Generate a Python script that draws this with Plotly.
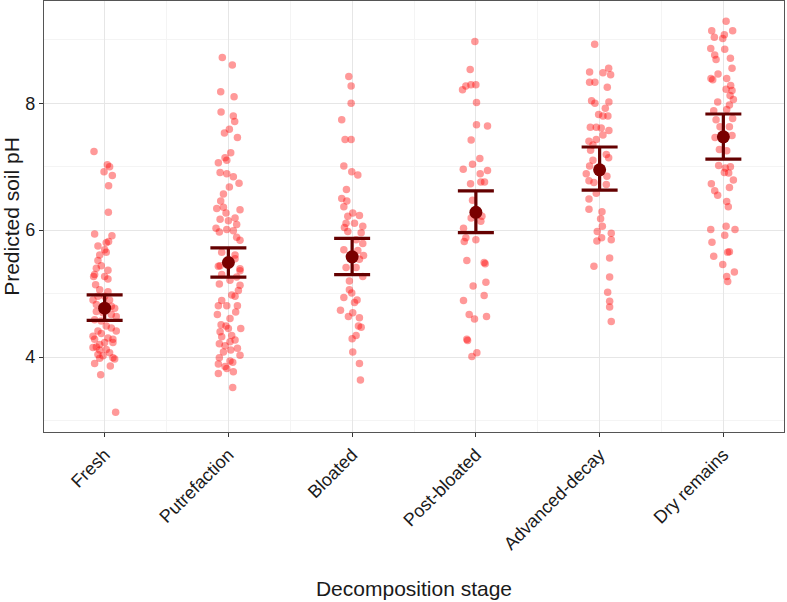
import plotly.graph_objects as go

# ---- data ----
stages = ["Fresh", "Putrefaction", "Bloated", "Post-bloated", "Advanced-decay", "Dry remains"]

# jittered observations: horizontal offset (category units) and predicted pH
fresh_off = [-0.086, 0.022, 0.040, -0.005, 0.062, 0.032, 0.030, -0.081, 0.059, 0.032, 0.013, -0.054,
             0.000, 0.013, -0.040, -0.054, -0.027, 0.027, -0.067, -0.081, -0.089, 0.027, 0.000, -0.073,
             -0.040, 0.027, -0.054, 0.000, -0.094, 0.040, -0.067, 0.081, 0.054, 0.094, -0.081, -0.027,
             0.013, 0.054, 0.094, -0.054, -0.027, -0.094, -0.081, 0.027, 0.067, 0.000, -0.040, 0.067,
             -0.067, -0.094, -0.040, 0.013, 0.040, -0.054, -0.013, 0.067, 0.081, -0.040, -0.081, 0.046,
             -0.032, 0.089, -0.013, 0.054, -0.067]
fresh_ph = [7.24, 7.03, 7.00, 6.92, 6.86, 6.70, 6.28, 5.94, 5.91, 5.82, 5.80, 5.75,
            5.69, 5.65, 5.61, 5.52, 5.44, 5.37, 5.40, 5.30, 5.27, 5.23, 5.27, 5.14,
            5.06, 5.03, 4.96, 4.96, 4.90, 4.90, 4.83, 4.77, 4.67, 4.64, 4.59, 4.57,
            4.49, 4.46, 4.41, 4.41, 4.37, 4.33, 4.28, 4.30, 4.28, 4.23, 4.20, 4.23,
            4.16, 4.15, 4.11, 4.12, 4.07, 4.04, 4.02, 3.99, 3.97, 3.98, 3.90, 3.86,
            3.72, 3.13, 4.70, 4.80, 4.72]

putre_off = [-0.049, 0.032, -0.062, 0.046, -0.059, 0.040, 0.051, 0.008, -0.032, 0.073, 0.019, -0.027,
             -0.013, -0.081, -0.067, -0.013, 0.040, 0.086, 0.008, -0.040, -0.062, -0.094, -0.040, 0.094,
             -0.019, -0.067, 0.000, 0.054, 0.067, -0.100, -0.013, 0.040, -0.073, 0.067, 0.094, 0.054,
             -0.081, -0.054, 0.094, 0.067, -0.073, 0.013, 0.094, 0.081, 0.027, 0.054, -0.054, -0.081,
             -0.013, 0.073, 0.059, -0.089, 0.013, -0.059, -0.019, -0.067, 0.000, 0.100, -0.054, 0.027,
             0.054, 0.013, -0.073, -0.027, 0.073, 0.019, -0.040, 0.094, -0.073, 0.013, -0.081, 0.035,
             -0.013, -0.027, -0.081, 0.040, 0.035, -0.054, 0.054, -0.067, 0.094]
putre_ph = [8.72, 8.60, 8.18, 8.10, 7.86, 7.80, 7.71, 7.59, 7.53, 7.46, 7.22, 7.14,
            7.10, 7.06, 6.91, 6.89, 6.84, 6.74, 6.68, 6.57, 6.46, 6.34, 6.36, 6.32,
            6.27, 6.17, 6.15, 6.19, 6.09, 6.03, 6.01, 5.99, 5.97, 5.89, 5.84, 5.61,
            5.43, 5.30, 5.36, 5.26, 5.15, 5.21, 5.13, 5.05, 4.98, 4.96, 4.89, 4.81,
            4.81, 4.81, 4.71, 4.67, 4.61, 4.51, 4.49, 4.40, 4.45, 4.45, 4.32, 4.34,
            4.27, 4.24, 4.21, 4.18, 4.14, 4.11, 4.08, 4.03, 3.99, 3.94, 3.89, 3.92,
            3.82, 3.85, 3.74, 3.77, 3.52, 5.65, 5.55, 5.44, 5.39]

bloat_off = [-0.027, -0.008, -0.008, -0.084, -0.057, -0.008, -0.067, -0.003, 0.046, -0.046, -0.084, -0.043,
             -0.067, 0.005, 0.059, -0.035, 0.019, -0.049, 0.086, -0.062, -0.035, 0.073, 0.032, 0.086,
             -0.067, 0.046, 0.092, 0.059, -0.049, 0.032, 0.086, -0.022, -0.022, -0.003, -0.067, 0.040,
             0.019, -0.094, -0.030, 0.059, 0.005, 0.051, 0.073, 0.032, 0.000, 0.005, 0.059, 0.067]
bloat_ph = [8.42, 8.27, 8.00, 7.74, 7.43, 7.43, 7.01, 6.92, 6.87, 6.64, 6.50, 6.46,
            6.37, 6.27, 6.23, 6.22, 6.11, 6.11, 6.06, 6.04, 5.98, 5.96, 5.85, 5.79,
            5.69, 5.68, 5.60, 5.54, 5.41, 5.41, 5.27, 5.20, 5.06, 5.01, 4.94, 4.90,
            4.86, 4.74, 4.64, 4.62, 4.70, 4.49, 4.47, 4.34, 4.29, 4.08, 3.90, 3.64]

post_off = [-0.008, -0.046, -0.108, -0.081, -0.040, 0.000, 0.005, 0.005, 0.094, -0.038, 0.032, -0.027,
            -0.102, 0.035, 0.094, -0.043, 0.040, 0.070, -0.027, 0.049, -0.038, 0.040, -0.100, -0.081,
            -0.094, 0.000, -0.073, 0.075, 0.067, 0.081, -0.022, 0.067, -0.100, -0.054, -0.011, 0.086,
            -0.073, -0.067, 0.008, -0.032]
post_ph = [8.97, 8.53, 8.21, 8.27, 8.29, 8.29, 8.01, 7.66, 7.64, 7.42, 7.13, 7.04,
           6.96, 6.89, 6.94, 6.73, 6.76, 6.76, 6.47, 6.22, 6.19, 6.14, 6.03, 5.88,
           5.82, 5.85, 5.52, 5.47, 5.49, 5.18, 5.12, 4.97, 4.89, 4.67, 4.60, 4.64,
           4.28, 4.26, 4.07, 4.01]

adv_off = [-0.040, -0.081, 0.073, 0.027, 0.089, -0.081, -0.038, 0.062, -0.065, -0.038, 0.075, 0.046,
           -0.008, 0.027, 0.067, -0.075, -0.027, 0.013, 0.075, 0.027, -0.027, -0.086, -0.054, -0.073,
           0.054, 0.073, -0.054, -0.081, -0.108, 0.059, -0.086, -0.046, 0.054, -0.027, -0.086, -0.086,
           0.019, 0.008, 0.022, -0.019, 0.094, 0.016, -0.022, 0.094, 0.081, -0.046, 0.081, 0.065,
           0.081, 0.081, 0.094]
adv_ph = [8.93, 8.49, 8.55, 8.48, 8.45, 8.33, 8.33, 8.25, 8.04, 8.00, 8.02, 7.92,
          7.82, 7.80, 7.80, 7.62, 7.62, 7.61, 7.57, 7.50, 7.43, 7.40, 7.34, 7.26,
          7.19, 7.14, 7.10, 7.01, 6.89, 6.85, 6.78, 6.75, 6.72, 6.58, 6.49, 6.33,
          6.29, 6.18, 6.06, 5.98, 5.95, 5.88, 5.83, 5.85, 5.56, 5.43, 5.26, 5.02,
          4.88, 4.79, 4.56]

dry_off = [0.022, -0.094, 0.075, 0.008, -0.073, -0.005, -0.102, 0.011, -0.070, -0.059, 0.057, 0.070,
           -0.043, -0.100, -0.086, 0.027, 0.059, 0.022, 0.070, 0.054, 0.081, -0.046, 0.049, 0.027,
           -0.078, 0.075, -0.059, -0.027, 0.049, 0.070, -0.067, -0.032, 0.027, -0.038, 0.016, 0.057,
           0.008, 0.043, 0.081, -0.097, -0.070, 0.049, -0.046, 0.027, 0.040, 0.022, -0.102, 0.094,
           0.011, -0.092, 0.049, 0.035, -0.078, -0.005, 0.089, 0.027, 0.035]
dry_ph = [9.29, 9.14, 9.14, 9.08, 9.04, 9.02, 8.86, 8.85, 8.76, 8.69, 8.71, 8.55,
          8.46, 8.39, 8.37, 8.39, 8.28, 8.22, 8.20, 8.12, 8.06, 8.02, 7.97, 7.90,
          7.88, 7.76, 7.74, 7.63, 7.63, 7.49, 7.46, 7.27, 7.25, 7.02, 6.98, 7.00,
          6.91, 6.90, 6.79, 6.73, 6.62, 6.67, 6.55, 6.45, 6.37, 6.06, 6.01, 6.01,
          5.92, 5.81, 5.66, 5.65, 5.59, 5.46, 5.34, 5.27, 5.19]

# stage means with interval limits
mean_ph = [4.77, 5.49, 5.58, 6.28, 6.95, 7.47]
upper_ph = [4.98, 5.72, 5.87, 6.62, 7.31, 7.83]
lower_ph = [4.58, 5.26, 5.30, 5.96, 6.63, 7.12]

offsets = [fresh_off, putre_off, bloat_off, post_off, adv_off, dry_off]
values = [fresh_ph, putre_ph, bloat_ph, post_ph, adv_ph, dry_ph]

FONT = "Liberation Sans, Arial, sans-serif"

fig = go.Figure()

# raw points
for i, (off, ph) in enumerate(zip(offsets, values)):
    fig.add_trace(go.Scatter(
        x=[i + 1 + o for o in off], y=ph, mode="markers",
        marker=dict(color="rgba(255,0,0,0.4)", size=7.5, line=dict(width=0)),
        showlegend=False, hoverinfo="y"
    ))

# mean + error bars
fig.add_trace(go.Scatter(
    x=list(range(1, len(stages) + 1)), y=mean_ph, mode="markers",
    marker=dict(color="#7a0000", size=13),
    error_y=dict(
        type="data", symmetric=False,
        array=[u - m for u, m in zip(upper_ph, mean_ph)],
        arrayminus=[m - l for m, l in zip(mean_ph, lower_ph)],
        color="#640000", thickness=3.2, width=18
    ),
    showlegend=False
))

fig.update_layout(
    width=787, height=602,
    margin=dict(l=44, r=3, t=1, b=170, autoexpand=False),
    paper_bgcolor="white", plot_bgcolor="white",
    font=dict(family=FONT, color="#1a1a1a"),
    xaxis=dict(
        range=[0.51, 6.49], automargin=False,
        tickmode="array", tickvals=list(range(1, 7)), ticktext=stages,
        tickangle=-45, tickfont=dict(size=18, color="#1a1a1a"),
        ticks="outside", ticklen=4, tickwidth=1.2, tickcolor="#333333",
        showgrid=True, gridcolor="#e6e6e6", gridwidth=1,
        minor=dict(tickvals=[1.5, 2.5, 3.5, 4.5, 5.5], showgrid=True,
                   gridcolor="#f4f4f4", gridwidth=1, ticks=""),
        showline=True, linecolor="#555555", linewidth=1.3, mirror=True,
        zeroline=False,
        title=dict(text="Decomposition stage", font=dict(size=21), standoff=28),
    ),
    yaxis=dict(
        range=[2.82, 9.61], automargin=False,
        tickmode="array", tickvals=[4, 6, 8],
        tickfont=dict(size=18, color="#1a1a1a"),
        ticks="outside", ticklen=4, tickwidth=1.2, tickcolor="#333333",
        showgrid=True, gridcolor="#e6e6e6", gridwidth=1,
        minor=dict(tickvals=[3, 5, 7, 9], showgrid=True,
                   gridcolor="#f4f4f4", gridwidth=1, ticks=""),
        showline=True, linecolor="#555555", linewidth=1.3, mirror=True,
        zeroline=False,
        title=dict(text="Predicted soil pH", font=dict(size=21), standoff=6),
    ),
)

# the page body has a default 8px margin; drop it so the figure fills the window
fig.write_html("out.html", config={"displayModeBar": False},
               post_script="document.body.style.margin='0';")
